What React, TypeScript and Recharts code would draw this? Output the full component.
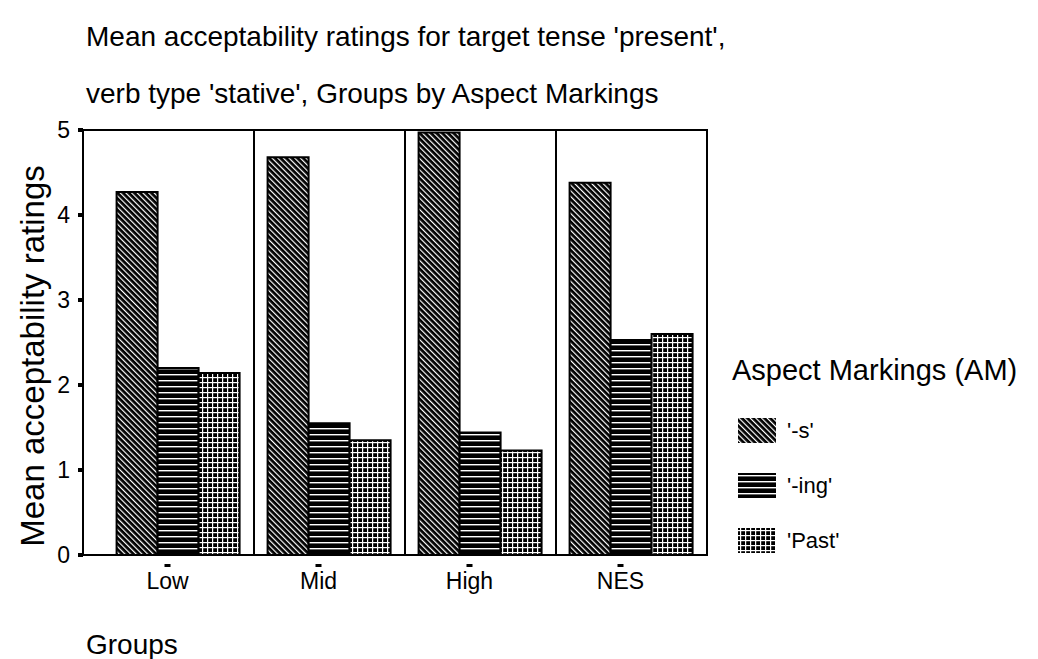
import { Bar, BarChart, ReferenceArea, ReferenceLine, XAxis, YAxis } from "recharts";

const GROUPS = ["Low", "Mid", "High", "NES"];
const S_VALUES = [4.27, 4.68, 4.97, 4.38];
const ING_VALUES = [2.2, 1.55, 1.44, 2.53];
const PAST_VALUES = [2.14, 1.35, 1.23, 2.6];
const Y_TICKS = [0, 1, 2, 3, 4, 5];

const SERIES = [
  { key: "s", name: "'-s'", fill: "url(#patS)" },
  { key: "ing", name: "'-ing'", fill: "url(#patIng)" },
  { key: "past", name: "'Past'", fill: "url(#patPast)" },
];

const data = GROUPS.map((g, i) => ({
  group: g,
  s: S_VALUES[i],
  ing: ING_VALUES[i],
  past: PAST_VALUES[i],
}));

const FONT = "'Liberation Sans', Arial, sans-serif";

function GroupTick(props: any) {
  const { x, y, payload } = props;
  return (
    <g>
      <rect x={x - 14} y={y + 1} width={6} height={3} fill="#000" />
      <text x={x - 11} y={y + 26} textAnchor="middle" fontSize={23} fill="#000">
        {payload.value}
      </text>
    </g>
  );
}

function AspectLegend() {
  return (
    <div style={{ position: "absolute", left: 732, top: 352, fontFamily: FONT, color: "#000" }}>
      <div style={{ fontSize: 29, lineHeight: "36px", marginBottom: 30 }}>Aspect Markings (AM)</div>
      {SERIES.map((s) => (
        <div
          key={s.key}
          style={{ display: "flex", alignItems: "center", height: 25, marginBottom: 30, marginLeft: 6 }}
        >
          <svg width={38} height={25} style={{ display: "block" }}>
            <rect x={0} y={0} width={38} height={25} fill={s.fill} />
          </svg>
          <span style={{ fontSize: 22, marginLeft: 11 }}>{s.name}</span>
        </div>
      ))}
    </div>
  );
}

export default function App() {
  return (
    <div
      style={{
        position: "absolute",
        left: 0,
        top: 0,
        width: 1038,
        height: 659,
        background: "#fff",
        fontFamily: FONT,
        overflow: "hidden",
      }}
    >
      <BarChart
        width={1038}
        height={659}
        data={data}
        barCategoryGap="9%"
        barGap={0}
        margin={{ top: 130, right: 331, bottom: 64, left: 43 }}
      >
        <defs>
          <pattern id="patS" patternUnits="userSpaceOnUse" width={4} height={4} patternTransform="rotate(-45)">
            <rect width={4} height={4} fill="#000" />
            <rect x={0} y={0} width={1.2} height={4} fill="#fff" />
          </pattern>
          <pattern id="patIng" patternUnits="userSpaceOnUse" width={6} height={6}>
            <rect width={6} height={6} fill="#000" />
            <rect x={0} y={2} width={6} height={1.4} fill="#fff" />
          </pattern>
          <pattern id="patPast" patternUnits="userSpaceOnUse" width={5} height={5}>
            <rect width={5} height={5} fill="#000" />
            <rect x={0} y={2} width={5} height={1.2} fill="#fff" />
            <rect x={2} y={0} width={1.2} height={5} fill="#fff" />
          </pattern>
        </defs>
        <XAxis
          dataKey="group"
          padding={{ left: 20, right: 0 }}
          axisLine={{ stroke: "#000", strokeWidth: 2 }}
          tickLine={false}
          tick={<GroupTick />}
          height={40}
        />
        <YAxis
          domain={[0, 5]}
          ticks={Y_TICKS}
          width={40}
          axisLine={{ stroke: "#000", strokeWidth: 2 }}
          tickLine={{ stroke: "#000", strokeWidth: 4 }}
          tickSize={5}
          tickMargin={8}
          tick={{ fontSize: 23, fill: "#000" }}
        />
        {/* panel dividers: frame every group after the first one */}
        {GROUPS.slice(1).map((g) => (
          <ReferenceArea
            key={g}
            x1={g}
            x2={g}
            y1={0}
            y2={5}
            fill="none"
            fillOpacity={0}
            stroke="#000"
            strokeWidth={2}
          />
        ))}
        <ReferenceLine y={5} stroke="#000" strokeWidth={2} />
        {SERIES.map((s) => (
          <Bar
            key={s.key}
            dataKey={s.key}
            name={s.name}
            fill={s.fill}
            stroke="#000"
            strokeWidth={2}
            isAnimationActive={false}
          />
        ))}
      </BarChart>
      <AspectLegend />
      <svg
        width={1038}
        height={659}
        style={{ position: "absolute", left: 0, top: 0, pointerEvents: "none" }}
      >
        <text x={86} y={46} fontSize={28} fill="#000">
          Mean acceptability ratings for target tense 'present',
        </text>
        <text x={86} y={103} fontSize={28} fill="#000">
          verb type 'stative', Groups by Aspect Markings
        </text>
        <text
          x={0}
          y={0}
          fontSize={33}
          fill="#000"
          textAnchor="middle"
          transform="translate(44 356) rotate(-90)"
        >
          Mean acceptability ratings
        </text>
        <text x={86} y={654} fontSize={28} fill="#000">
          Groups
        </text>
      </svg>
    </div>
  );
}
